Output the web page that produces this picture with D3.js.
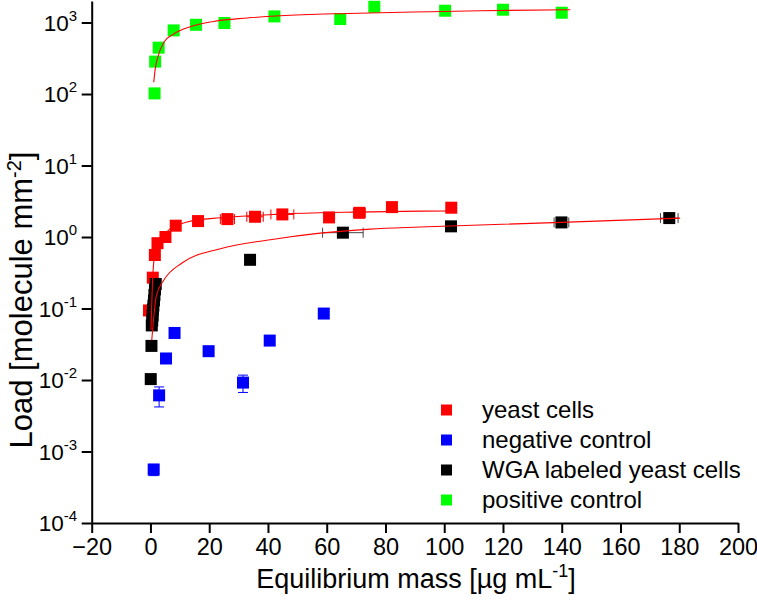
<!DOCTYPE html>
<html>
<head>
<meta charset="utf-8">
<script src="https://cdn.jsdelivr.net/npm/d3@7"></script>
<style>
  body { margin: 0; background: #fff; }
  text { font-family: "Liberation Sans", Arial, sans-serif; fill: #000; }
</style>
</head>
<body>
<svg id="chart" width="757" height="608"></svg>
<script>
// yeast cells (red)
let yeastX    = [-0.5, 0.8, 1.5, 2.4, 5.1, 8.6, 16.2, 26.2, 35.6, 44.9, 60.8, 71.1, 82.2, 102.4],
    yeastY    = [0.094, 0.27, 0.56, 0.82, 1.0, 1.44, 1.67, 1.78, 1.92, 2.07, 1.88, 2.18, 2.62, 2.57],
    yeastXErr = [0, 0, 0, 0, 0, 0, 0, 2.4, 2.8, 3.9, 0, 2.0, 0, 0];

// negative control (blue)
let negX    = [1.1, 2.95, 5.3, 8.2, 19.8, 31.5, 40.6, 59.0],
    negY    = [0.00056, 0.0061, 0.020, 0.0455, 0.0253, 0.0092, 0.0356, 0.085],
    negYErr = [0.0001, 0.0019, 0, 0, 0, 0.0025, 0, 0];

// WGA labeled yeast cells (black)
let wgaX    = [0.1, 0.34, 0.45, 0.6, 0.75, 0.85, 1.0, 1.2, 1.35, 1.55, 1.8, 33.9, 65.5, 102.3, 139.9, 176.6],
    wgaY    = [0.0103, 0.030, 0.058, 0.068, 0.08, 0.097, 0.11, 0.13, 0.155, 0.185, 0.22, 0.48, 1.15, 1.41, 1.60, 1.84],
    wgaXErr = [0, 0, 0, 0, 0, 0, 0, 0, 0, 0, 0, 0, 6.9, 0, 2.5, 3.0];

// positive control (green)
let posX = [1.4, 1.6, 2.8, 7.9, 15.5, 25.2, 42.2, 64.6, 76.2, 100.3, 120.0, 140.0],
    posY = [102, 284, 445, 776, 930, 984, 1217, 1119, 1660, 1462, 1510, 1370];

// fitted curves
let yeastFitX = [0.17, 0.78, 1.36, 2.38, 4.08, 6.8, 12.5, 23.8, 35.1, 46.5, 57.8, 69.1, 91.8, 102.4],
    yeastFitY = [0.05, 0.272, 0.553, 0.814, 1.02, 1.31, 1.62, 1.86, 2.0, 2.12, 2.18, 2.23, 2.30, 2.31];
let wgaFitX = [0.44, 1.02, 2.04, 4.52, 10.6, 23.8, 40.8, 57.8, 74.8, 91.8, 139.8, 180.3],
    wgaFitY = [0.036, 0.068, 0.153, 0.248, 0.43, 0.687, 0.917, 1.134, 1.29, 1.38, 1.60, 1.84];
let posFitX = [1.12, 1.70, 2.48, 4.52, 7.93, 13.6, 21.5, 32.9, 44.2, 66.9, 89.6, 112.2, 142.9],
    posFitY = [146, 236, 326, 527, 691, 874, 1036, 1156, 1245, 1340, 1402, 1462, 1510];

let xTicks = [-20, 0, 20, 40, 60, 80, 100, 120, 140, 160, 180, 200],
    xMinor = [-10, 10, 30, 50, 70, 90, 110, 130, 150, 170, 190],
    yExp   = [-4, -3, -2, -1, 0, 1, 2, 3];

let legendNames = ['yeast cells', 'negative control', 'WGA labeled yeast cells', 'positive control'],
    legendColors = ['#ff0000', '#0000ff', '#000000', '#00ff00'];

let svg = d3.select('#chart');

let scale_x = d3.scaleLinear().domain([-20, 200]).range([91.7, 738]),
    scale_y = d3.scaleLog().domain([1e-4, 2000]).range([523, 1]),
    ms = 12;

let yMajor = yExp.map(e => Math.pow(10, e)),
    yMinorVals = [];
yExp.forEach(e => { if (e < 3) for (let k = 2; k <= 9; k++) yMinorVals.push(k * Math.pow(10, e)); });

// axes
let gx = svg.append('g').attr('transform', 'translate(0,523)');
gx.call(d3.axisBottom(scale_x).tickValues(xMinor).tickSize(5).tickFormat(''));
gx.call(d3.axisBottom(scale_x).tickValues(xTicks).tickSize(10).tickSizeOuter(0).tickPadding(5).tickFormat(d3.format('d')));
gx.selectAll('path.domain').attr('stroke-width', 2);
gx.selectAll('line').attr('stroke-width', 2);
gx.selectAll('text').attr('font-size', 23.5).attr('font-family', '"Liberation Sans", Arial, sans-serif');

let gy = svg.append('g').attr('transform', 'translate(91.7,0)');
gy.call(d3.axisLeft(scale_y).tickValues(yMinorVals).tickSize(5).tickSizeOuter(0).tickFormat(''));
gy.call(d3.axisLeft(scale_y).tickValues(yMajor).tickSize(10).tickSizeOuter(0).tickFormat(''));
gy.selectAll('path.domain').attr('stroke-width', 2);
gy.selectAll('line').attr('stroke-width', 2);

yExp.forEach(e => {
  let t = svg.append('text')
    .attr('x', 77)
    .attr('y', scale_y(Math.pow(10, e)) + 8)
    .attr('text-anchor', 'end')
    .attr('font-size', 22.5);
  t.append('tspan').text('10');
  t.append('tspan').attr('dy', -10).attr('font-size', 15).text(e < 0 ? '-' + (-e) : e);
});

// axis titles
let xt = svg.append('text')
  .attr('x', 416).attr('y', 588)
  .attr('text-anchor', 'middle')
  .attr('font-size', 27);
xt.append('tspan').text('Equilibrium mass [µg mL');
xt.append('tspan').attr('dy', -11).attr('font-size', 18).text('-1');
xt.append('tspan').attr('dy', 11).text(']');

let yt = svg.append('text')
  .attr('transform', 'translate(32,300) rotate(-90)')
  .attr('text-anchor', 'middle')
  .attr('font-size', 31);
yt.append('tspan').text('Load [molecule mm');
yt.append('tspan').attr('dy', -11).attr('font-size', 20).text('-2');
yt.append('tspan').attr('dy', 11).text(']');

let plot = svg.append('g');

function xErrBars(xs, ys, errs, color) {
  xs.forEach((xv, i) => {
    if (!errs[i]) return;
    let y0 = scale_y(ys[i]), x1 = scale_x(xv - errs[i]), x2 = scale_x(xv + errs[i]);
    plot.append('line').attr('x1', x1).attr('x2', x2).attr('y1', y0).attr('y2', y0)
      .attr('stroke', color).attr('stroke-width', 1);
    [x1, x2].forEach(xx => plot.append('line').attr('x1', xx).attr('x2', xx)
      .attr('y1', y0 - 5).attr('y2', y0 + 5).attr('stroke', color).attr('stroke-width', 1));
  });
}

function yErrBars(xs, ys, errs, color) {
  xs.forEach((xv, i) => {
    if (!errs[i]) return;
    let x0 = scale_x(xv), y1 = scale_y(ys[i] + errs[i]), y2 = scale_y(ys[i] - errs[i]);
    plot.append('line').attr('x1', x0).attr('x2', x0).attr('y1', y1).attr('y2', y2)
      .attr('stroke', color).attr('stroke-width', 1);
    [y1, y2].forEach(yy => plot.append('line').attr('x1', x0 - 5).attr('x2', x0 + 5)
      .attr('y1', yy).attr('y2', yy).attr('stroke', color).attr('stroke-width', 1));
  });
}

function squares(xs, ys, color) {
  plot.selectAll(null)
    .data(xs.map((xv, i) => [xv, ys[i]]))
    .enter()
    .append('rect')
    .attr('x', d => scale_x(d[0]) - ms / 2)
    .attr('y', d => scale_y(d[1]) - ms / 2)
    .attr('width', ms)
    .attr('height', ms)
    .attr('fill', color);
}

let line = d3.line().x(d => scale_x(d[0])).y(d => scale_y(d[1])).curve(d3.curveMonotoneX);
function fit(xs, ys) {
  plot.append('path')
    .attr('d', line(xs.map((xv, i) => [xv, ys[i]])))
    .attr('fill', 'none')
    .attr('stroke', '#ff0000')
    .attr('stroke-width', 1.1);
}

xErrBars(yeastX, yeastY, yeastXErr, '#ff0000');
squares(yeastX, yeastY, '#ff0000');
yErrBars(negX, negY, negYErr, '#0000ff');
squares(negX, negY, '#0000ff');
xErrBars(wgaX, wgaY, wgaXErr, '#444');
squares(wgaX, wgaY, '#000000');
squares(posX, posY, '#00ff00');

fit(yeastFitX, yeastFitY);
fit(wgaFitX, wgaFitY);
fit(posFitX, posFitY);

// legend
let lg = svg.append('g');
legendNames.forEach((name, i) => {
  let cy = 410 + i * 30;
  lg.append('rect').attr('x', 441).attr('y', cy - 5.5).attr('width', 11).attr('height', 11)
    .attr('fill', legendColors[i]);
  lg.append('text').attr('x', 482).attr('y', cy + 8).attr('font-size', 24).text(name);
});
</script>
</body>
</html>
